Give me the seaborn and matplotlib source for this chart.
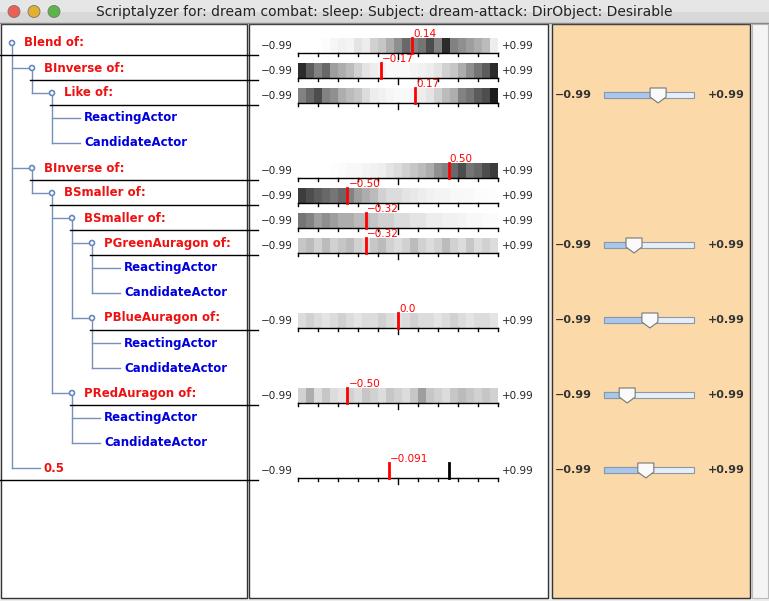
import matplotlib
matplotlib.use("Agg")
import matplotlib.pyplot as plt
import seaborn as sns
import numpy as np
from matplotlib.patches import Rectangle, Circle, Polygon

W, H = 769, 601
title = "Scriptalyzer for: dream combat: sleep: Subject: dream-attack: DirObject: Desirable"

tree_labels = ["Blend of:", "BInverse of:", "Like of:", "ReactingActor", "CandidateActor",
               "BInverse of:", "BSmaller of:", "BSmaller of:", "PGreenAuragon of:",
               "ReactingActor", "CandidateActor", "PBlueAuragon of:", "ReactingActor",
               "CandidateActor", "PRedAuragon of:", "ReactingActor", "CandidateActor", "0.5"]
tree_levels = [0, 1, 2, 3, 3, 1, 2, 3, 4, 5, 5, 4, 5, 5, 3, 4, 4, 1]
tree_kind = ["op", "op", "op", "leaf", "leaf", "op", "op", "op", "op", "leaf", "leaf",
             "op", "leaf", "leaf", "op", "leaf", "leaf", "const"]

strip_rows = [0, 1, 2, 5, 6, 7, 8, 11, 14, 17]
strip_values = [0.14, -0.17, 0.17, 0.50, -0.50, -0.32, -0.32, 0.0, -0.50, -0.091]
strip_labels = ["0.14", "-0.17", "0.17", "0.50", "-0.50", "-0.32", "-0.32", "0.0", "-0.50", "-0.091"]
g1 = [0, 0, 0, .03, .08, .12, .1, .2, .15, .3, .35, .45, .55, .7, .6, .65, .8, .6, .9, .6, .55, .5, .45, .4, .15]
g2 = [.9, .75, .6, .7, .5, .45, .4, .3, .2, .15, .1, .05, .05, .05, .1, .12, .15, .2, .3, .35, .45, .55, .65, .75, .9]
g3 = [.6, .7, .8, .6, .55, .45, .4, .35, .25, .15, .12, .08, .05, .05, .1, .15, .2, .3, .4, .45, .6, .65, .75, .8, .95]
g4 = [0, 0, 0, 0, .02, .04, .06, .06, .1, .12, .14, .2, .25, .3, .35, .4, .45, .55, .6, .7, .8, .65, .7, .8, .85]
g5 = [.85, .8, .75, .7, .65, .7, .6, .5, .45, .4, .3, .25, .25, .2, .18, .15, .12, .1, .1, .06, .06, .05, .03, .03, .02]
g6 = [.65, .6, .5, .55, .5, .45, .45, .4, .4, .35, .3, .3, .25, .25, .2, .2, .15, .15, .12, .12, .1, .06, .06, .04, .04]
g7 = [.35, .4, .3, .4, .3, .35, .4, .3, .25, .35, .4, .3, .25, .3, .4, .3, .25, .3, .4, .3, .25, .35, .25, .3, .25]
g8 = [.25, .3, .25, .2, .25, .3, .25, .2, .25, .25, .3, .25, .2, .25, .3, .25, .25, .2, .25, .3, .25, .2, .25, .25, .2]
g9 = [.3, .45, .25, .35, .25, .2, .3, .25, .35, .3, .25, .35, .3, .25, .35, .5, .35, .3, .25, .35, .4, .35, .3, .35, .3]
strip_grays = [g1, g2, g3, g4, g5, g6, g7, g8, g9, None]
extra_black = {17: 0.50}

slider_rows = [2, 8, 11, 14, 17]
slider_values = [0.20, -0.33, 0.02, -0.48, -0.07]

fig = plt.figure(figsize=(W / 100, H / 100), dpi=100)
ax = fig.add_axes([0, 0, 1, 1])
ax.set_xlim(0, W); ax.set_ylim(H, 0); ax.axis("off")

ax.add_patch(Rectangle((0, 0), W, 23, color="#d8d8d8", zorder=1))
ax.add_patch(Rectangle((0, 0), W, 11, color="#e6e6e6", zorder=1))
ax.plot([0, W], [23, 23], color="#888", lw=1)
for cx, c in zip([14, 34, 54], ["#ec5f57", "#e0b030", "#5bb548"]):
    ax.add_patch(Circle((cx, 11.5), 6, facecolor=c, edgecolor="#777", lw=0.6, zorder=3))
ax.text(384, 12, title, ha="center", va="center", fontsize=10, color="#222")
ax.add_patch(Rectangle((0, 24), W, H - 24, color="#ececec", zorder=0))
ax.add_patch(Rectangle((1, 24), 246, 574, facecolor="white", edgecolor="#333", lw=1, zorder=1))
ax.add_patch(Rectangle((249, 24), 299, 574, facecolor="white", edgecolor="#333", lw=1, zorder=1))
ax.add_patch(Rectangle((552, 24), 198, 574, facecolor="#fcd9a8", edgecolor="#333", lw=1, zorder=1))
ax.add_patch(Rectangle((752, 24), 16, 574, facecolor="#f4f4f4", edgecolor="#bbb", lw=0.8, zorder=1))

def ry(i):
    return 43 + 25 * i

for i, (lab, lv, kd) in enumerate(zip(tree_labels, tree_levels, tree_kind)):
    tx = 24 + 20 * lv
    col = "#0000dd" if kd == "leaf" else "#ee1111"
    ax.text(tx, ry(i), lab, ha="left", va="center", fontsize=8.5, fontweight="bold", color=col, zorder=4)
    if kd == "op":
        ax.add_patch(Circle((tx - 12, ry(i)), 2.5, facecolor="white", edgecolor="#6688bb", lw=1.2, zorder=4))
        last = None
        for j in range(i + 1, len(tree_labels)):
            if tree_levels[j] <= lv:
                break
            if tree_levels[j] == lv + 1:
                last = j
                ax.plot([tx - 12, tx + 20 - (12 if tree_kind[j] == "op" else 4)], [ry(j), ry(j)],
                        color="#7790bb", lw=1, zorder=3)
        if last is not None:
            ax.plot([tx - 12, tx - 12], [ry(i) + 3, ry(last)], color="#7790bb", lw=1, zorder=3)
    if kd != "leaf":
        x0 = 0 if (kd == "const" or lv == 0) else tx - 14
        ax.plot([x0, 258], [ry(i) + 12, ry(i) + 12], color="black", lw=1, zorder=5)

SX0, SX1 = 298, 498
def vx(v):
    return SX0 + (v + 0.99) / 1.98 * (SX1 - SX0)

for r, g in zip(strip_rows, strip_grays):
    if g is not None:
        yb = ry(r) + 10
        sa = fig.add_axes([SX0 / W, 1 - yb / H, (SX1 - SX0) / W, 15 / H])
        sns.heatmap(np.array([g]), ax=sa, cmap="Greys", vmin=0, vmax=1.05, cbar=False,
                    xticklabels=False, yticklabels=False)

ov = fig.add_axes([0, 0, 1, 1])
ov.set_xlim(0, W); ov.set_ylim(H, 0); ov.axis("off"); ov.patch.set_alpha(0)

for r, v, lab in zip(strip_rows, strip_values, strip_labels):
    yb = ry(r) + 10
    ov.text(SX0 - 5, ry(r) + 3, "\u22120.99", ha="right", va="center", fontsize=7.5, color="#222")
    ov.text(SX1 + 4, ry(r) + 3, "+0.99", ha="left", va="center", fontsize=7.5, color="#222")
    ov.plot([SX0, SX1], [yb, yb], color="black", lw=1)
    for k in range(11):
        x = SX0 + k * 20
        ov.plot([x, x], [yb, yb + (6 if k == 5 else 3)], color="black", lw=1)
    x = vx(v)
    ov.plot([x, x], [yb - 15, yb], color="red", lw=2)
    if r in extra_black:
        xb = vx(extra_black[r])
        ov.plot([xb, xb], [yb - 15, yb], color="black", lw=2)
    ov.text(x + 1, yb - 14, lab.replace("-", "\u2212"), ha="left", va="bottom", fontsize=7.5, color="red")

for r, v in zip(slider_rows, slider_values):
    y = ry(r) + 2
    ov.text(592, y, "\u22120.99", ha="right", va="center", fontsize=8, fontweight="bold", color="#333")
    ov.text(708, y, "+0.99", ha="left", va="center", fontsize=8, fontweight="bold", color="#333")
    ov.add_patch(Rectangle((604, y - 3), 90, 6, facecolor="#e8eef8", edgecolor="#8899aa", lw=0.8))
    tx = 604 + (v + 0.99) / 1.98 * 90
    ov.add_patch(Rectangle((604, y - 3), tx - 604, 6, facecolor="#a9c6ec", edgecolor="#8899aa", lw=0.8))
    ov.add_patch(Polygon([(tx - 8, y - 7), (tx + 8, y - 7), (tx + 8, y + 2), (tx, y + 8), (tx - 8, y + 2)],
                         facecolor="#fafafa", edgecolor="#777", lw=0.8))

fig.savefig("out.png", dpi=100)
